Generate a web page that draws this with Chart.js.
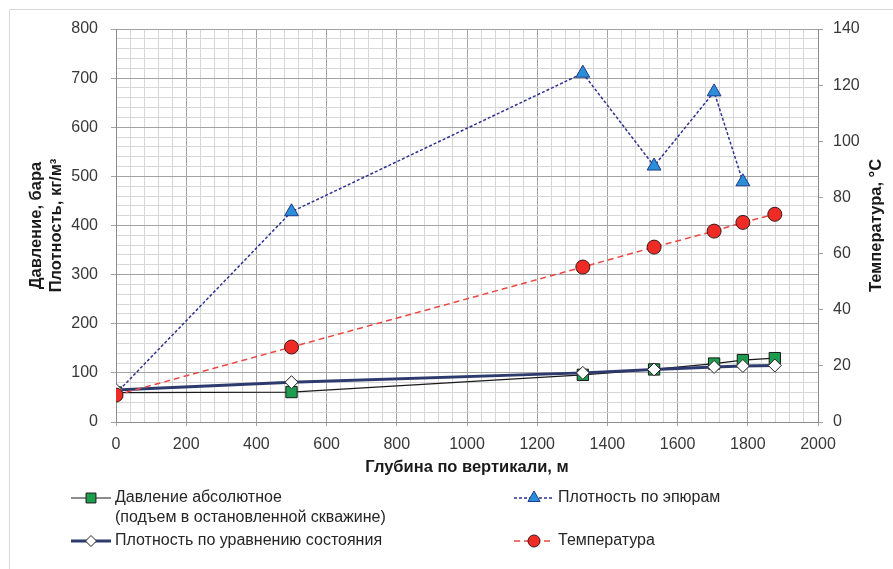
<!DOCTYPE html>
<html><head><meta charset="utf-8">
<script src="https://cdn.jsdelivr.net/npm/chart.js@4.4.1/dist/chart.umd.min.js"></script>
<style>html,body{margin:0;padding:0;background:#fff}#wrap{width:893px;height:569px;position:relative}</style>
</head><body><div id="wrap"><canvas id="c"></canvas></div>
<script>
// ---- data ----
const depthPressure = [0, 500, 1330, 1533, 1704, 1786, 1877];
const pressure      = [60, 61, 96, 107, 119, 126, 130];
const depthEpure    = [0, 500, 1330, 1533, 1704, 1786];
const densityEpure  = [58, 428, 710, 521, 672, 489];
const depthEos      = [0, 500, 1330, 1533, 1704, 1786, 1877];
const densityEos    = [65, 81, 100, 107, 112, 114, 115];
const depthTemp     = [0, 500, 1330, 1533, 1704, 1786, 1877];
const temperature   = [9.6, 26.7, 55.2, 62.3, 68.0, 71.1, 74.0];
const seriesNames = ['Давление абсолютное\n(подъем в остановленной скважине)', 'Плотность по эпюрам', 'Плотность по уравнению состояния', 'Температура'];
const xTitle = 'Глубина по вертикали, м';
const yTitleLines = ['Давление, бара', 'Плотность, кг/м³'];
const y1Title = 'Температура, °С';

const pts = (xs, ys) => xs.map((x, i) => ({x, y: ys[i]}));
const FONT = '"Liberation Sans", Arial, sans-serif';
const TICKC = '#383838';
const MAJOR = '#a3a3a3', MINOR = '#d6d6d6';

const dsPressure = {label: seriesNames[0], data: pts(depthPressure, pressure), yAxisID: 'y',
  borderColor: '#1a1a1a', borderWidth: 1.2, pointStyle: 'rect', pointRadius: 8,
  pointBackgroundColor: '#1f9d4f', pointBorderColor: '#1a1a1a', pointBorderWidth: 1, order: 4};
const dsEpure = {label: seriesNames[1], data: pts(depthEpure, densityEpure), yAxisID: 'y',
  borderColor: '#2e3290', borderWidth: 1.5, borderDash: [3, 2], pointStyle: 'triangle', pointRadius: 8,
  pointBackgroundColor: '#2a8fd8', pointBorderColor: '#1f3a8a', pointBorderWidth: 1, order: 3};
const dsEos = {label: seriesNames[2], data: pts(depthEos, densityEos), yAxisID: 'y',
  borderColor: '#2c3a6e', borderWidth: 3, pointStyle: 'rectRot', pointRadius: 6.5,
  pointBackgroundColor: '#ffffff', pointBorderColor: '#222222', pointBorderWidth: 1, order: 2};
const dsTemp = {label: seriesNames[3], data: pts(depthTemp, temperature), yAxisID: 'y1',
  borderColor: '#ec4640', borderWidth: 1.5, borderDash: [6, 4], pointStyle: 'circle', pointRadius: 7,
  pointBackgroundColor: '#ee2b25', pointBorderColor: '#3b1a1a', pointBorderWidth: 1, order: 1};
const datasets = [dsPressure, dsEpure, dsEos, dsTemp];

const decor = {
  id: 'decor',
  beforeDraw(chart) {
    const c = chart.ctx;
    c.save();
    c.fillStyle = '#fff'; c.fillRect(0, 0, chart.width, chart.height);
    c.strokeStyle = '#d9d9d9'; c.lineWidth = 1;
    c.beginPath(); c.moveTo(9.5, chart.height); c.lineTo(9.5, 9.5); c.lineTo(chart.width, 9.5); c.stroke();
    c.restore();
  },
  afterDraw(chart) {
    const c = chart.ctx, a = chart.chartArea;
    c.save();
    c.fillStyle = '#1a1a1a';
    c.font = 'bold 16.5px ' + FONT;
    c.textAlign = 'center'; c.textBaseline = 'middle';
    // x title
    c.fillText(xTitle, (a.left + a.right) / 2, 467);
    // left titles
    const cy = (a.top + a.bottom) / 2;
    c.save(); c.translate(36, cy); c.rotate(-Math.PI / 2); c.fillText(yTitleLines[0], 0, 0); c.restore();
    c.save(); c.translate(56, cy); c.rotate(-Math.PI / 2); c.fillText(yTitleLines[1], 0, 0); c.restore();
    // right title
    c.save(); c.translate(876, cy); c.rotate(-Math.PI / 2); c.fillText(y1Title, 0, 0); c.restore();

    // legend
    const items = [
      {ds: dsPressure, x: 71, y: 498},
      {ds: dsEpure, x: 514, y: 498},
      {ds: dsEos, x: 71, y: 541},
      {ds: dsTemp, x: 514, y: 541},
    ];
    const W = 40;
    items.forEach(it => {
      const d = it.ds;
      c.save();
      c.strokeStyle = d.borderColor; c.lineWidth = d.borderWidth;
      c.setLineDash(d.borderDash || []);
      c.beginPath(); c.moveTo(it.x, it.y); c.lineTo(it.x + W, it.y); c.stroke();
      c.setLineDash([]);
      c.fillStyle = d.pointBackgroundColor; c.strokeStyle = d.pointBorderColor; c.lineWidth = d.pointBorderWidth;
      Chart.helpers.drawPoint(c, {pointStyle: d.pointStyle, radius: d.pointRadius - 1, borderWidth: 1}, it.x + W / 2, it.y);
      c.restore();
      c.fillStyle = '#262626'; c.font = '16px ' + FONT; c.textAlign = 'left'; c.textBaseline = 'middle';
      const lines = d.label.split('\n');
      lines.forEach((ln, k) => c.fillText(ln, it.x + W + 4, it.y + k * 20));
    });
    c.restore();
  }
};

const gridColor = ctx => (ctx.tick && ctx.tick.value % (ctx.scale.axis === 'x' ? 200 : 100) === 0) ? MAJOR : MINOR;

new Chart(document.getElementById('c'), {
  type: 'line',
  data: {datasets},
  options: {
    responsive: true, maintainAspectRatio: false, animation: false,
    layout: {padding: {top: 29, bottom: 87, left: 0, right: 0}},
    plugins: {legend: {display: false}, tooltip: {enabled: false}},
    elements: {line: {tension: 0, fill: false}},
    scales: {
      x: {type: 'linear', min: 0, max: 2000,
        afterFit: s => { s.height = 60; },
        ticks: {stepSize: 40, autoSkip: false, maxRotation: 0, padding: 9, color: TICKC,
          font: {family: FONT, size: 16},
          callback: v => (v % 200 === 0 ? String(v) : '')},
        grid: {color: gridColor, tickLength: 4, tickColor: ctx => (ctx.tick && ctx.tick.value % 200 === 0) ? MAJOR : 'rgba(0,0,0,0)'},
        border: {color: '#8c8c8c', width: 1}},
      y: {type: 'linear', position: 'left', min: 0, max: 800,
        afterFit: s => { s.width = 116; },
        ticks: {stepSize: 20, autoSkip: false, padding: 13, color: TICKC, font: {family: FONT, size: 16},
          callback: v => (v % 100 === 0 ? String(v) : '')},
        grid: {color: gridColor, tickLength: 5, tickColor: ctx => (ctx.tick && ctx.tick.value % 100 === 0) ? MAJOR : 'rgba(0,0,0,0)'},
        border: {color: '#8c8c8c', width: 1}},
      y1: {type: 'linear', position: 'right', min: 0, max: 140,
        afterFit: s => { s.width = 75; },
        ticks: {stepSize: 20, padding: 10, color: TICKC, font: {family: FONT, size: 16}},
        grid: {drawOnChartArea: false, tickLength: 5, tickColor: MAJOR},
        border: {color: '#8c8c8c', width: 1}}
    }
  },
  plugins: [decor]
});
</script></body></html>
